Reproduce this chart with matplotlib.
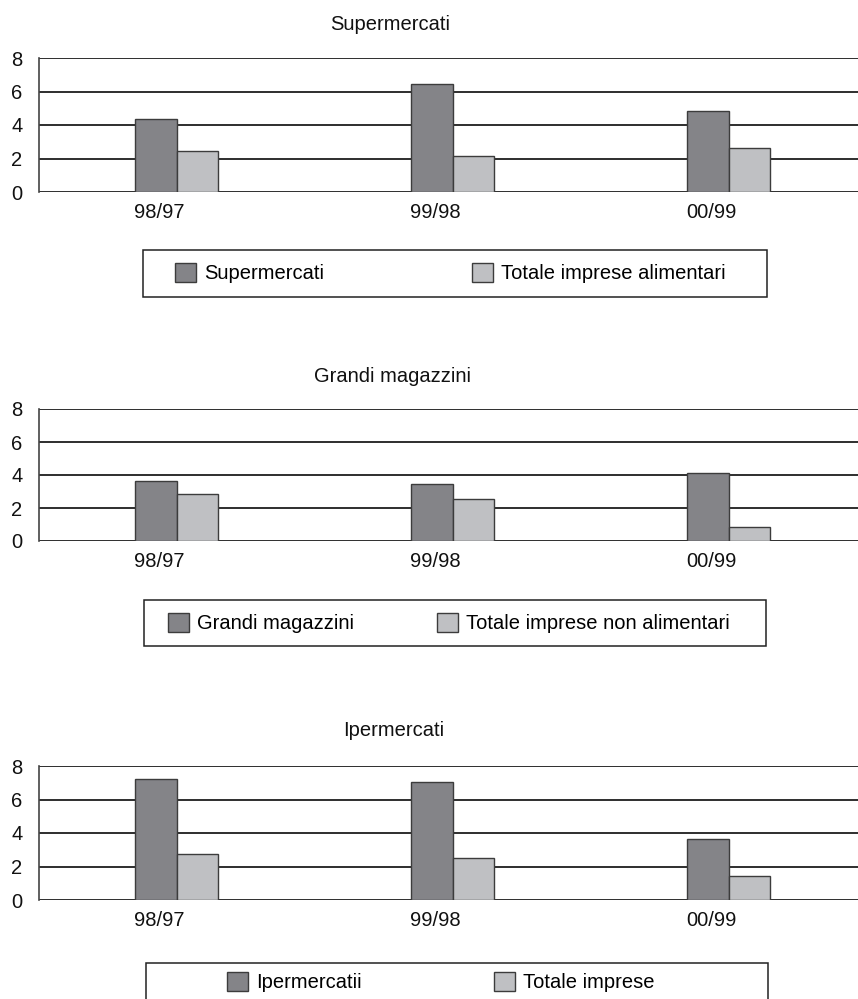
import matplotlib
matplotlib.use("Agg")
import matplotlib.pyplot as plt
from matplotlib.patches import Rectangle, Patch

plt.rcParams['font.family'] = ['Liberation Sans', 'DejaVu Sans']

periods = ["98/97", "99/98", "00/99"]

titles = ["Supermercati", "Grandi magazzini", "Ipermercati"]
dark_labels = ["Supermercati", "Grandi magazzini", "Ipermercatii"]
light_labels = ["Totale imprese alimentari", "Totale imprese non alimentari", "Totale imprese"]

super_vals = [4.35, 6.43, 4.85]
super_tot = [2.45, 2.17, 2.65]
grandi_vals = [3.65, 3.45, 4.15]
grandi_tot = [2.87, 2.57, 0.87]
iper_vals = [7.2, 7.02, 3.65]
iper_tot = [2.75, 2.48, 1.45]

dark_series = [super_vals, grandi_vals, iper_vals]
light_series = [super_tot, grandi_tot, iper_tot]

W, H = 858, 999
DARK = "#848488"
LIGHT = "#bfc0c3"
EDGE = "#3c3c3c"
FS = 14.5

# layout in pixels (top, bottom of plot area; title pos; legend box; legend item x)
axes_px = [(58, 192), (409, 541), (766, 900)]
title_px = [(390, 24), (392, 376), (394, 730)]
legbox_px = [(143, 250, 767, 297), (144, 600, 766, 646), (146, 963, 768, 1005)]
legitem_px = [(175, 472, 273), (168, 437, 623), (227, 494, 982)]

fig = plt.figure(figsize=(W / 100, H / 100), dpi=100)
ax_left, ax_right = 38.5, 867

bw = 0.15
label_shift = 0.062  # category labels sit a little left of the bar pairs
for i in range(3):
    top, bot = axes_px[i]
    ax = fig.add_axes([ax_left / W, 1 - bot / H, (ax_right - ax_left) / W, (bot - top) / H])
    x = list(range(len(periods)))
    ax.bar([v - bw / 2 for v in x], dark_series[i], bw, color=DARK, edgecolor=EDGE, linewidth=1, zorder=3)
    ax.bar([v + bw / 2 for v in x], light_series[i], bw, color=LIGHT, edgecolor=EDGE, linewidth=1, zorder=3)
    ax.set_xlim(-0.5, 2.5)
    ax.set_ylim(0, 8)
    ax.set_yticks([0, 2, 4, 6, 8])
    ax.set_xticks([v - label_shift for v in x])
    ax.set_xticklabels(periods)
    for s in ["top", "right", "bottom"]:
        ax.spines[s].set_visible(False)
    ax.spines["left"].set_color("#444444")
    ax.spines["left"].set_linewidth(1.2)
    ax.yaxis.grid(True, color="#1e1e1e", linewidth=1.3, zorder=1)
    ax.set_axisbelow(True)
    ax.tick_params(axis="both", length=0, labelsize=FS, colors="#111111")
    ax.tick_params(axis="y", pad=11.5)
    ax.tick_params(axis="x", pad=8)

    tx, ty = title_px[i]
    fig.text(tx / W, 1 - ty / H, titles[i], ha="center", va="center", fontsize=FS, color="#111111")

    x0, y0, x1, y1 = legbox_px[i]
    fig.add_artist(Rectangle((x0 / W, 1 - y1 / H), (x1 - x0) / W, (y1 - y0) / H,
                             transform=fig.transFigure, fill=False, edgecolor="#222222", linewidth=1.1))
    dx, lx, ly = legitem_px[i]
    for px, lab, col in [(dx, dark_labels[i], DARK), (lx, light_labels[i], LIGHT)]:
        h = Patch(facecolor=col, edgecolor=EDGE, linewidth=1)
        fig.legend(handles=[h], labels=[lab], loc="center left",
                   bbox_to_anchor=(px / W, 1 - ly / H), frameon=False, borderpad=0,
                   borderaxespad=0, handlelength=1.05, handleheight=1.05, handletextpad=0.4,
                   fontsize=FS)

fig.savefig("out.png", dpi=100)
